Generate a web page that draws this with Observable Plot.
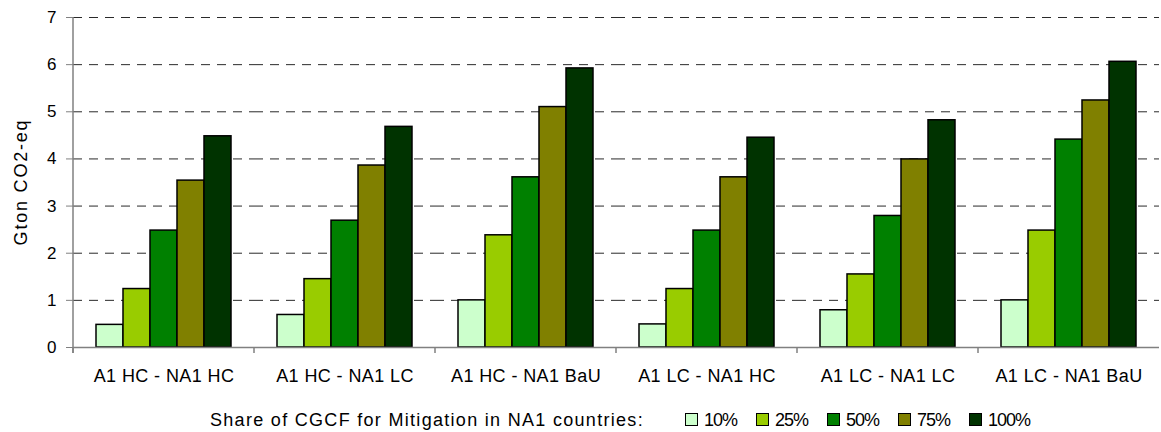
<!DOCTYPE html>
<html>
<head>
<meta charset="utf-8">
<script src="https://cdn.jsdelivr.net/npm/d3@7"></script>
<script src="https://cdn.jsdelivr.net/npm/@observablehq/plot@0.6"></script>
<style>
  html, body { margin: 0; padding: 0; background: #fff; }
  body { width: 1161px; height: 432px; overflow: hidden; font-family: "Liberation Sans", Arial, sans-serif; color: #000; }
  #chart svg { display: block; font-family: "Liberation Sans", Arial, sans-serif; }
  #chart svg text { font-family: "Liberation Sans", Arial, sans-serif; }
  [aria-label="fx-axis tick label"] text, text[aria-label="fx-axis tick label"] { letter-spacing: 0.4px; }
  .legend { display: flex; align-items: baseline; height: 37px; box-sizing: border-box; padding-top: 15px; font-size: 18px; line-height: 20px; }
  .legend .title { margin-left: 210px; letter-spacing: 1.3px; }
  .legend .item { display: flex; align-items: baseline; }
  .legend .sw { display: inline-block; width: 11px; height: 11px; border: 1px solid #000; margin-right: 6px; }
  .legend .lab { letter-spacing: -1px; }
</style>
</head>
<body>
<div id="chart"></div>
<div class="legend" id="legend"></div>
<script>
// ---- data ----
const categories = ["A1 HC - NA1 HC", "A1 HC - NA1 LC", "A1 HC - NA1 BaU", "A1 LC - NA1 HC", "A1 LC - NA1 LC", "A1 LC - NA1 BaU"];
const series = ["10%", "25%", "50%", "75%", "100%"];
const seriesColors = ["#CCFFCC", "#99CC00", "#008000", "#808000", "#003300"];
const share10 = [0.48, 0.69, 1.00, 0.49, 0.79, 1.00];
const share25 = [1.24, 1.45, 2.38, 1.24, 1.55, 2.48];
const share50 = [2.48, 2.69, 3.61, 2.48, 2.79, 4.41];
const share75 = [3.54, 3.86, 5.10, 3.61, 3.99, 5.24];
const share100 = [4.48, 4.68, 5.92, 4.45, 4.82, 6.06];
const yTicks = [0, 1, 2, 3, 4, 5, 6, 7];
const yLabel = "Gton CO2-eq";
const legendTitle = "Share of CGCF for Mitigation in NA1 countries:";

const seriesValues = [share10, share25, share50, share75, share100];
const data = [];
categories.forEach((c, i) => {
  series.forEach((s, j) => data.push({category: c, series: s, value: seriesValues[j][i]}));
});

const plot = Plot.plot({
  width: 1161,
  height: 395,
  marginLeft: 71,
  marginRight: 1,
  marginTop: 17,
  marginBottom: 48,
  style: {fontFamily: "'Liberation Sans', Arial, sans-serif", fontSize: "18px", color: "#000", background: "#fff", overflow: "visible"},
  fx: {domain: categories, padding: 0, label: null},
  x: {domain: series, paddingInner: 0, paddingOuter: 0.74, axis: null},
  y: {domain: [0, 7], label: null},
  color: {domain: series, range: seriesColors},
  marks: [
    Plot.ruleY(yTicks.filter(d => d > 0), {stroke: "#2a2a2a", strokeWidth: 1, strokeDasharray: "9,7"}),
    Plot.barY(data, {fx: "category", x: "series", y: "value", fill: "series", stroke: "#000", strokeWidth: 1.5}),
    Plot.ruleY([0], {stroke: "#808080", strokeWidth: 1.5}),
    Plot.axisY({ticks: yTicks, tickSize: 7, tickPadding: 10, stroke: "#808080", fill: "#000", fontSize: 17, tickFormat: d => String(d), label: null}),
    Plot.axisFx({anchor: "bottom", tickSize: 0, tickPadding: 22, label: null, fontSize: 18, fill: "#000"})
  ]
});
document.getElementById("chart").appendChild(plot);

// Excel-style axis line and category boundary ticks, positioned from the scales
const fx = plot.scale("fx");
const ys = plot.scale("y");
const fxLeft = c => fx.apply ? fx.apply(c) : fx.range[0] + fx.step * categories.indexOf(c);
const yPos = v => ys.apply ? ys.apply(v) : ys.range[0] + (ys.range[1] - ys.range[0]) * (v - ys.domain[0]) / (ys.domain[1] - ys.domain[0]);
const y0 = yPos(0), yTop = yPos(yTicks[yTicks.length - 1]);
const svg = d3.select(plot);
const g = svg.append("g").attr("stroke", "#808080").attr("stroke-width", 1.5);
g.append("line").attr("x1", fxLeft(categories[0])).attr("x2", fxLeft(categories[0])).attr("y1", yTop).attr("y2", y0 + 6);
categories.forEach(c => {
  g.append("line").attr("x1", fxLeft(c)).attr("x2", fxLeft(c)).attr("y1", y0).attr("y2", y0 + 6);
});

// y-axis title, centred on the y range
svg.append("text")
  .attr("transform", `translate(27,${(y0 + yTop) / 2}) rotate(-90)`)
  .attr("text-anchor", "middle")
  .style("font-size", "18px")
  .style("letter-spacing", "1.8px")
  .attr("fill", "#000")
  .text(yLabel);

// legend
const legend = document.getElementById("legend");
const t = document.createElement("span");
t.className = "title";
t.textContent = legendTitle;
legend.appendChild(t);
series.forEach((s, i) => {
  const item = document.createElement("span");
  item.className = "item";
  item.style.marginLeft = i === 0 ? "41px" : "19px";
  const sw = document.createElement("span");
  sw.className = "sw";
  sw.style.background = seriesColors[i];
  const lab = document.createElement("span");
  lab.className = "lab";
  lab.textContent = s;
  item.appendChild(sw);
  item.appendChild(lab);
  legend.appendChild(item);
});
</script>
</body>
</html>
